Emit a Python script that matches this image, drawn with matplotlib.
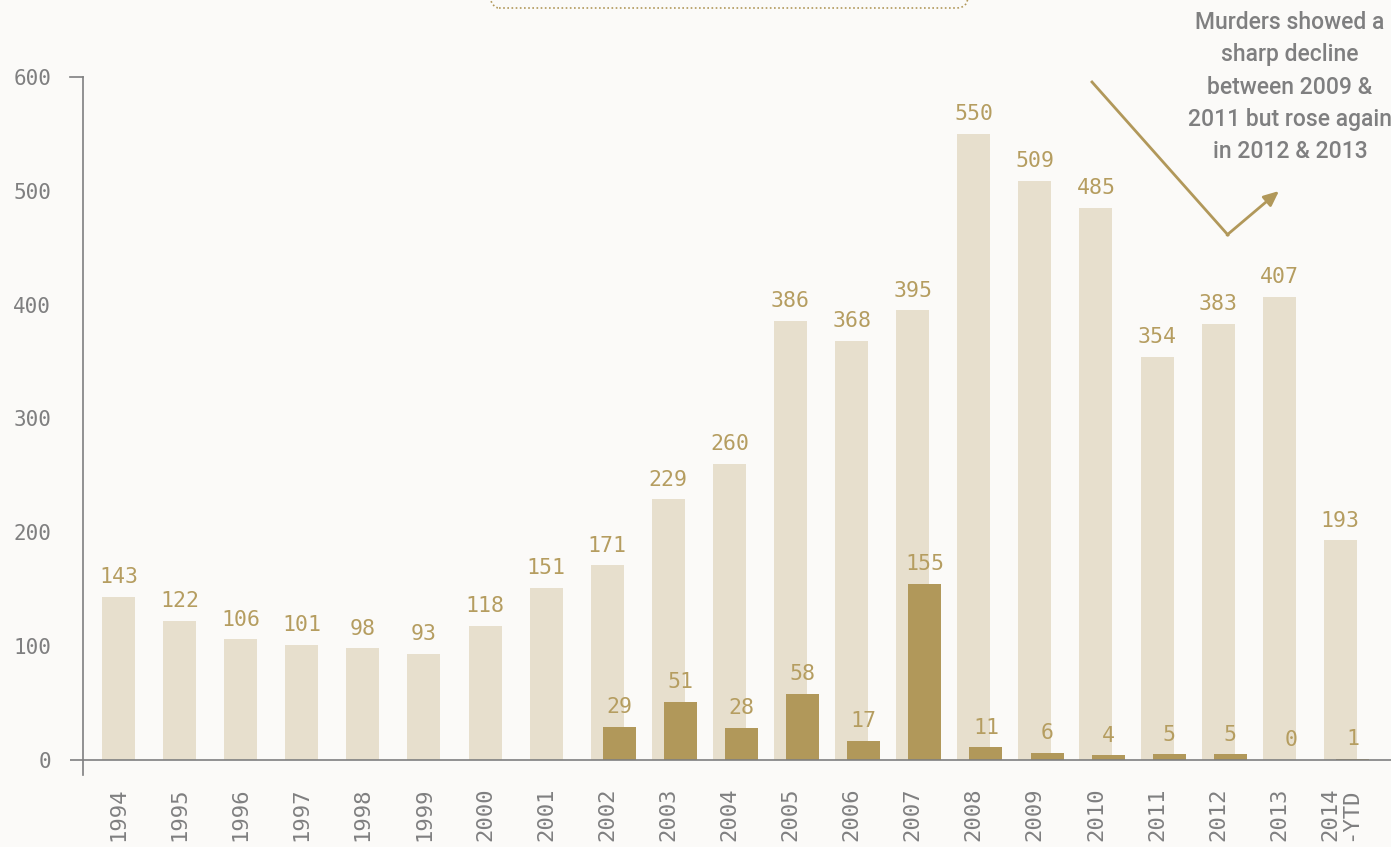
import matplotlib.pyplot as plt
import numpy as np
from matplotlib.patches import FancyBboxPatch

# data
years = ['1994', '1995', '1996', '1997', '1998', '1999', '2000', '2001', '2002', '2003', '2004',
         '2005', '2006', '2007', '2008', '2009', '2010', '2011', '2012', '2013', '2014\n-YTD']
total = [143, 122, 106, 101, 98, 93, 118, 151, 171, 229, 260, 386, 368, 395, 550, 509, 485, 354, 383, 407, 193]
# second series starts in 2002
second = [None] * 8 + [29, 51, 28, 58, 17, 155, 11, 6, 4, 5, 5, 0, 1]

light = '#e7dfcd'
dark = '#b1985a'
gold_txt = '#b59d60'
grey = '#7f7f80'
bg = '#fbfaf8'

fig = plt.figure(figsize=(13.91, 8.47), dpi=100, facecolor=bg)
ax = fig.add_axes([70 / 1391, (847 - 775) / 847, (1391 - 70) / 1391, (775 - 77) / 847])
ax.set_facecolor(bg)

x = np.arange(len(years))
w = 0.54
off = 0.2

ax.bar(x, total, width=w, color=light, zorder=1)
for xi, v in zip(x, total):
    ax.annotate(str(v), (xi, v), xytext=(0, 7), textcoords='offset points', ha='center', va='bottom',
                color=gold_txt, fontsize=15.5, family='DejaVu Sans Mono')

xs = [xi + off for xi, v in zip(x, second) if v is not None]
vs = [v for v in second if v is not None]
ax.bar(xs, vs, width=w, color=dark, zorder=2)
for xi, v in zip(xs, vs):
    ax.annotate(str(v), (xi, v), xytext=(0, 7), textcoords='offset points', ha='center', va='bottom',
                color=gold_txt, fontsize=15.5, family='DejaVu Sans Mono')

# axes limits (pixel-matched)
ax.set_xlim(-0.794, 20.83)
ax.set_ylim(-13.2, 600)

for s in ['top', 'right', 'bottom']:
    ax.spines[s].set_visible(False)
ax.spines['left'].set_position(('data', -0.581))
ax.spines['left'].set_color(grey)
ax.spines['left'].set_linewidth(1.2)
ax.axhline(0, color=grey, lw=1.2, zorder=3, xmin=0, xmax=1)
ax.plot([-0.794, -0.581], [600, 600], color=grey, lw=1.2, clip_on=False)

ax.set_yticks([0, 100, 200, 300, 400, 500, 600])
ax.tick_params(axis='y', length=0, pad=23, labelsize=15, labelcolor=grey)
ax.set_xticks(x)
ax.set_xticklabels(years, rotation=90, va='top', ha='center', family='DejaVu Sans Mono',
                   linespacing=1.0)
ax.tick_params(axis='x', length=0, pad=9, labelsize=16, labelcolor=grey)
for lab in ax.get_yticklabels():
    lab.set_family('DejaVu Sans Mono')

# annotation
fig.text(1290 / 1391, 1 - 11 / 847, 'Murders showed a\nsharp decline\nbetween 2009 &\n2011 but rose again\nin 2012 & 2013',
         ha='center', va='top', fontsize=16.5, color=grey, family='Roboto', fontweight='medium',
         linespacing=1.52)

def fp(px, py):
    return (px / 1391, 1 - py / 847)

fig.add_artist(plt.Line2D([1092 / 1391, 1228 / 1391], [1 - 82 / 847, 1 - 235 / 847],
                          transform=fig.transFigure, color=dark, lw=2))
ax.annotate('', xy=fp(1279, 191), xytext=fp(1227, 235), xycoords='figure fraction',
            textcoords='figure fraction',
            arrowprops=dict(arrowstyle='-|>,head_length=0.9,head_width=0.4', color=dark, lw=2,
                            shrinkA=0, shrinkB=0))

# dotted box peeking from the top
box = FancyBboxPatch((4.87, 8.39), 4.81, 0.5, boxstyle='round,pad=0,rounding_size=0.12',
                     transform=fig.dpi_scale_trans, fill=False, edgecolor=dark, lw=1.2,
                     linestyle=(0, (1, 1.5)))
fig.add_artist(box)

plt.savefig('out.png', dpi=100, facecolor=bg)
